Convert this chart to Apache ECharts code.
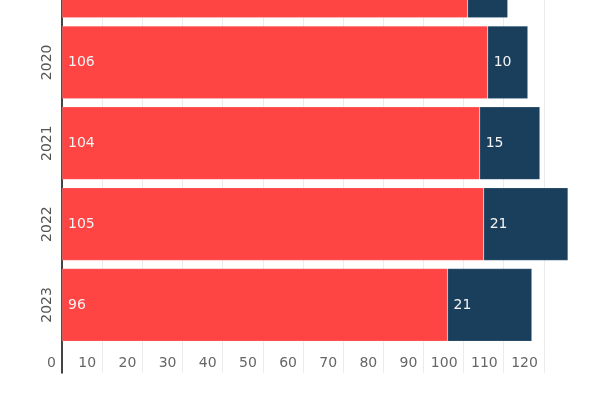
<!DOCTYPE html>
<html>
<head>
<meta charset="utf-8">
<script src="https://cdn.jsdelivr.net/npm/echarts@6/dist/echarts.min.js"></script>
<style>html,body{margin:0;padding:0;background:#fff}#c{width:600px;height:400px}</style>
</head>
<body>
<div id="c"></div>
<script>
const categories = ['2019', '2020', '2021', '2022', '2023'];
const redValues = [101, 106, 104, 105, 96];
const blueValues = [10, 10, 15, 21, 21];
const xTickInterval = 10;
const xMax = 126;

const chart = echarts.init(document.getElementById('c'));
const splitLine = { show: true, showMaxLine: false, lineStyle: { color: '#ebebeb', width: 1 } };
const yLine = { show: true, lineStyle: { color: '#444', width: 2 } };
chart.setOption({
  animation: false,
  textStyle: { fontFamily: 'DejaVu Sans' },
  grid: [
    { left: 62, right: 32, top: -59, bottom: 54.6, outerBoundsMode: 'none', containLabel: false },
    { left: 62, right: 32, top: 345.4, bottom: 27.3, outerBoundsMode: 'none', containLabel: false }
  ],
  xAxis: [
    { gridIndex: 0, type: 'value', min: 0, max: xMax, interval: xTickInterval,
      splitLine: splitLine, axisLine: { show: false }, axisTick: { show: false }, axisLabel: { show: false } },
    { gridIndex: 1, type: 'value', min: 0, max: xMax, interval: xTickInterval,
      splitLine: splitLine, axisLine: { show: false }, axisTick: { show: false },
      axisLabel: { inside: true, align: 'right', padding: [0, 6, 0, 0], margin: 2,
        color: '#666', fontSize: 14, showMaxLabel: false } }
  ],
  yAxis: [
    { gridIndex: 0, type: 'category', inverse: true, data: categories,
      axisLine: yLine, axisTick: { show: false }, splitLine: { show: false },
      axisLabel: { rotate: 90, margin: 8, color: '#555', fontSize: 14 } },
    { gridIndex: 1, type: 'value', min: 0, max: 1,
      axisLine: yLine, axisTick: { show: false }, splitLine: { show: false }, axisLabel: { show: false } }
  ],
  series: [
    { type: 'bar', stack: 's', xAxisIndex: 0, yAxisIndex: 0, data: redValues, barCategoryGap: '10%',
      itemStyle: { color: '#ff4444', borderColor: 'rgba(255,255,255,0.35)', borderWidth: 0.5 },
      label: { show: true, position: 'insideLeft', distance: 6, color: '#f4f4f4', fontSize: 14 } },
    { type: 'bar', stack: 's', xAxisIndex: 0, yAxisIndex: 0, data: blueValues, barCategoryGap: '10%',
      itemStyle: { color: '#1a3f5c', borderColor: 'rgba(255,255,255,0.35)', borderWidth: 0.5 },
      label: { show: true, position: 'insideLeft', distance: 6, color: '#f4f4f4', fontSize: 14 } }
  ]
});
</script>
</body>
</html>
